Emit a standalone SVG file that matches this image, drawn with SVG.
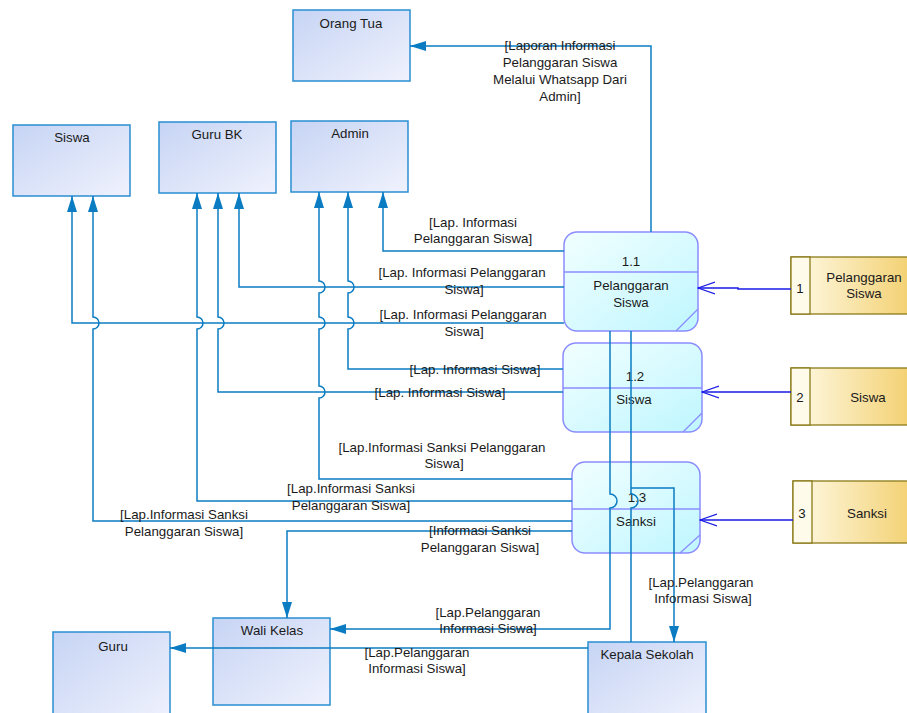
<svg xmlns="http://www.w3.org/2000/svg" width="907" height="713" viewBox="0 0 907 713">
<defs>
<linearGradient id="gEnt" x1="0" y1="0" x2="1" y2="1"><stop offset="0" stop-color="#c6d4f4"/><stop offset="1" stop-color="#f0f2fd"/></linearGradient>
<linearGradient id="gProc" x1="0" y1="0" x2="1" y2="1"><stop offset="0" stop-color="#f2ffff"/><stop offset="1" stop-color="#bff6ff"/></linearGradient>
<linearGradient id="gDS" x1="0" y1="0" x2="1" y2="0"><stop offset="0" stop-color="#fffbe8"/><stop offset="1" stop-color="#f2cd68"/></linearGradient>
<marker id="arr" viewBox="0 0 16 10" refX="16" refY="5" markerWidth="16" markerHeight="10" orient="auto" markerUnits="userSpaceOnUse"><path d="M0,0 L16,5 L0,10 z" fill="#0b7cc2"/></marker>
<marker id="open" viewBox="0 0 18 14" refX="17" refY="7" markerWidth="18" markerHeight="14" orient="auto" markerUnits="userSpaceOnUse"><path d="M0,1 L17,7 L0,13" fill="none" stroke="#1a1ae6" stroke-width="1.3"/></marker>
<style>
.ent{fill:url(#gEnt);stroke:#2a8ed2;stroke-width:1.5}
.proc{fill:url(#gProc);stroke:#8c8cff;stroke-width:1.5}
.pl{fill:none;stroke:#8c8cff;stroke-width:1.3}
.ds{fill:url(#gDS);stroke:#8a7a18;stroke-width:1.3}
.dsl{fill:#fffbea;stroke:#8a7a18;stroke-width:1.3}
.c{fill:none;stroke:#0b7cc2;stroke-width:1.5}
.a{marker-end:url(#arr)}
.d{fill:none;stroke:#1a1ae6;stroke-width:1.5;marker-end:url(#open)}
text{font-family:"Liberation Sans",Arial,sans-serif;font-size:13.3px;fill:#1a1a1a;text-anchor:middle}
</style>
</defs>
<rect width="907" height="713" fill="#ffffff"/>

<g id="orangtua"><rect class="ent" x="293" y="10" width="117" height="71"/><text x="351" y="28">Orang Tua</text></g>
<g id="siswa"><rect class="ent" x="13" y="125" width="117" height="71"/><text x="72" y="142">Siswa</text></g>
<g id="gurubk"><rect class="ent" x="159" y="122" width="117" height="71"/><text x="217" y="139">Guru BK</text></g>
<g id="admin"><rect class="ent" x="291" y="121" width="117" height="71"/><text x="350" y="138">Admin</text></g>
<g id="walikelas"><rect class="ent" x="213" y="618" width="117" height="87"/><text x="272" y="635">Wali Kelas</text></g>
<g id="guru"><rect class="ent" x="53" y="632" width="117" height="90"/><text x="113" y="651">Guru</text></g>
<g id="kepalasekolah"><rect class="ent" x="588" y="642" width="118" height="80"/><text x="647" y="659">Kepala Sekolah</text></g>

<g id="p11"><rect class="proc" x="564" y="232" width="134" height="99" rx="13"/><line class="pl" x1="564" y1="272" x2="698" y2="272"/><line class="pl" x1="676" y1="331" x2="698" y2="309"/><text x="631" y="266">1.1</text><text x="631" y="290">Pelanggaran</text><text x="631" y="307">Siswa</text></g>
<g id="p12"><rect class="proc" x="563" y="343" width="139" height="89" rx="13"/><line class="pl" x1="563" y1="388" x2="702" y2="388"/><line class="pl" x1="683" y1="432" x2="702" y2="413"/><text x="635" y="381">1.2</text><text x="634" y="404">Siswa</text></g>
<g id="p13"><rect class="proc" x="572" y="462" width="128" height="91" rx="13"/><line class="pl" x1="572" y1="509" x2="700" y2="509"/><line class="pl" x1="680" y1="553" x2="700" y2="535"/><text x="637" y="502">1.3</text><text x="636" y="526">Sanksi</text></g>

<g id="ds1"><rect class="ds" x="791" y="257" width="130" height="57"/><rect class="dsl" x="791" y="257" width="19" height="57"/><text x="800" y="293">1</text><text x="864" y="282">Pelanggaran</text><text x="864" y="298">Siswa</text></g>
<g id="ds2"><rect class="ds" x="791" y="368" width="130" height="57"/><rect class="dsl" x="791" y="368" width="19" height="57"/><text x="800" y="402">2</text><text x="868" y="402">Siswa</text></g>
<g id="ds3"><rect class="ds" x="793" y="481" width="130" height="62"/><rect class="dsl" x="793" y="481" width="19" height="62"/><text x="802" y="518">3</text><text x="867" y="518">Sanksi</text></g>

<g id="connectors">
<path class="d" d="M791,289 H738 V288 H698"/>
<path class="d" d="M791,392 H702"/>
<path class="d" d="M793,520 H700"/>

<path class="c a" d="M651,232 V46 H410"/>
<path class="c a" d="M564,251 H383 V192"/>
<path class="c a" d="M564,287 H239 V193"/>
<path class="c a" d="M564,323 H72 V196"/>
<path class="c a" d="M563,369 H348 V329 a6,6 0 0 0 0,-12 V293 a6,6 0 0 0 0,-12 V192"/>
<path class="c a" d="M563,392 H218 V329 a6,6 0 0 0 0,-12 V193"/>
<path class="c a" d="M572,479 H319 V398 a6,6 0 0 0 0,-12 V329 a6,6 0 0 0 0,-12 V293 a6,6 0 0 0 0,-12 V192"/>
<path class="c a" d="M572,501 H197 V329 a6,6 0 0 0 0,-12 V193"/>
<path class="c a" d="M572,521 H93 V329 a6,6 0 0 0 0,-12 V196"/>
<path class="c a" d="M572,531 H287 V618"/>
<path class="c a" d="M610,331 V494 a7,7 0 0 1 0,14 V629 H330"/>
<path class="c" d="M631,331 V494 a7,7 0 0 1 0,14 V642"/>
<path class="c a" d="M631,488 H674 V642"/>
<path class="c a" d="M588,648 H170"/>

<text x="560" y="50">[Laporan Informasi</text><text x="560" y="67">Pelanggaran Siswa</text><text x="560" y="84">Melalui Whatsapp Dari</text><text x="560" y="101">Admin]</text>
<text x="473" y="227">[Lap. Informasi</text><text x="473" y="243">Pelanggaran Siswa]</text>
<text x="462" y="277">[Lap. Informasi Pelanggaran</text><text x="464" y="294">Siswa]</text>
<text x="463" y="319">[Lap. Informasi Pelanggaran</text><text x="464" y="336">Siswa]</text>
<text x="475" y="374">[Lap. Informasi Siswa]</text>
<text x="440" y="397">[Lap. Informasi Siswa]</text>
<text x="442" y="452">[Lap.Informasi Sanksi Pelanggaran</text><text x="444" y="468">Siswa]</text>
<text x="351" y="493">[Lap.Informasi Sanksi</text><text x="351" y="510">Pelanggaran Siswa]</text>
<text x="184" y="519">[Lap.Informasi Sanksi</text><text x="184" y="536">Pelanggaran Siswa]</text>
<text x="480" y="535">[Informasi Sanksi</text><text x="480" y="552">Pelanggaran Siswa]</text>
<text x="701" y="587">[Lap.Pelanggaran</text><text x="703" y="603">Informasi Siswa]</text>
<text x="488" y="617">[Lap.Pelanggaran</text><text x="488" y="633">Informasi Siswa]</text>
<text x="417" y="657">[Lap.Pelanggaran</text><text x="417" y="673">Informasi Siswa]</text>
</g>
</svg>
